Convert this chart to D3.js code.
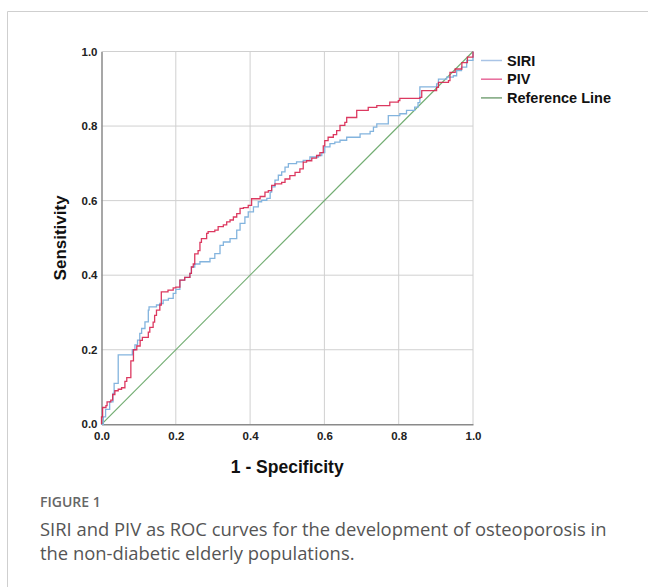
<!DOCTYPE html>
<html>
<head>
<meta charset="utf-8">
<script src="https://cdn.jsdelivr.net/npm/d3@7"></script>
<style>
  body { margin: 0; background: #fff; }
  svg { display: block; }
</style>
</head>
<body>
<svg id="chart"></svg>
<script>
// ROC curves
const siriPoints = [
  [0,0],[0.005,0.02],[0.011,0.04],[0.022,0.06],[0.031,0.083],[0.034,0.11],[0.045,0.115],[0.045,0.186],
  [0.081,0.186],[0.083,0.2],[0.09,0.213],[0.097,0.226],[0.103,0.244],[0.108,0.257],[0.117,0.275],
  [0.126,0.306],[0.128,0.315],[0.148,0.32],[0.157,0.324],[0.166,0.333],[0.18,0.338],[0.193,0.351],
  [0.2,0.362],[0.211,0.387],[0.224,0.394],[0.238,0.405],[0.242,0.422],[0.251,0.43],[0.265,0.436],
  [0.292,0.445],[0.305,0.458],[0.319,0.48],[0.328,0.489],[0.346,0.498],[0.364,0.521],[0.373,0.539],
  [0.386,0.556],[0.395,0.57],[0.409,0.583],[0.422,0.597],[0.431,0.601],[0.445,0.606],[0.454,0.623],
  [0.458,0.637],[0.467,0.655],[0.476,0.668],[0.485,0.677],[0.494,0.69],[0.503,0.699],[0.525,0.704],
  [0.543,0.708],[0.561,0.717],[0.584,0.721],[0.593,0.729],[0.601,0.744],[0.615,0.753],[0.628,0.757],
  [0.642,0.762],[0.66,0.77],[0.696,0.779],[0.723,0.786],[0.732,0.797],[0.741,0.806],[0.772,0.828],
  [0.803,0.833],[0.821,0.842],[0.843,0.851],[0.852,0.863],[0.857,0.869],[0.857,0.905],[0.879,0.905],
  [0.902,0.913],[0.907,0.926],[0.929,0.931],[0.947,0.935],[0.956,0.949],[0.969,0.958],[0.983,0.976],[1,1]
];

const pivPoints = [
  [0,0],[0,0.02],[0.003,0.045],[0.012,0.05],[0.015,0.06],[0.025,0.065],[0.03,0.08],[0.036,0.09],
  [0.045,0.094],[0.054,0.098],[0.063,0.115],[0.068,0.125],[0.078,0.125],[0.079,0.17],[0.086,0.2],
  [0.095,0.21],[0.104,0.225],[0.11,0.233],[0.121,0.233],[0.126,0.247],[0.13,0.26],[0.139,0.274],
  [0.143,0.292],[0.148,0.306],[0.157,0.32],[0.161,0.338],[0.161,0.355],[0.179,0.36],[0.193,0.366],
  [0.2,0.368],[0.211,0.387],[0.224,0.394],[0.238,0.405],[0.242,0.422],[0.247,0.43],[0.251,0.457],
  [0.26,0.466],[0.265,0.488],[0.269,0.498],[0.283,0.512],[0.287,0.517],[0.305,0.521],[0.314,0.53],
  [0.328,0.535],[0.337,0.543],[0.346,0.548],[0.355,0.556],[0.364,0.565],[0.373,0.579],[0.382,0.581],
  [0.395,0.587],[0.404,0.605],[0.427,0.611],[0.44,0.623],[0.449,0.627],[0.458,0.641],[0.467,0.645],
  [0.485,0.649],[0.494,0.658],[0.507,0.667],[0.521,0.676],[0.534,0.685],[0.543,0.703],[0.552,0.707],
  [0.566,0.714],[0.579,0.721],[0.588,0.729],[0.597,0.747],[0.601,0.761],[0.61,0.77],[0.624,0.777],
  [0.633,0.788],[0.642,0.802],[0.655,0.81],[0.66,0.823],[0.687,0.842],[0.718,0.85],[0.741,0.855],
  [0.776,0.864],[0.799,0.868],[0.803,0.874],[0.857,0.877],[0.862,0.895],[0.902,0.904],[0.907,0.917],
  [0.934,0.922],[0.938,0.944],[0.952,0.953],[0.97,0.97],[0.985,0.985],[1,1]
];

const refPoints = [[0,0],[1,1]];
const ticks = [0, 0.2, 0.4, 0.6, 0.8, 1.0];
const legendLabels = ["SIRI", "PIV", "Reference Line"];
const captionLines = [
  "SIRI and PIV as ROC curves for the development of osteoporosis in",
  "the non-diabetic elderly populations."
];

const width = 648, height = 587;
const colors = { SIRI: "#83b4de", PIV: "#d8244f", "Reference Line": "#72ad72" };
const legendColors = { SIRI: "#a9c4e6", PIV: "#e76a9a", "Reference Line": "#7aa57a" };
const font = "Liberation Sans, Arial, sans-serif";

const svg = d3.select("#chart")
    .attr("width", width)
    .attr("height", height);

// panel border
svg.append("path")
    .attr("d", "M7.5,587 V11.5 H648")
    .attr("fill", "none")
    .attr("stroke", "#cfcfcf");

const x = d3.scaleLinear().domain([0, 1]).range([101.5, 473]);
const y = d3.scaleLinear().domain([0, 1]).range([424.3, 51.5]);

// grid
svg.append("g")
  .selectAll("line")
  .data(ticks.slice(1))
  .join("line")
    .attr("x1", d => x(d)).attr("x2", d => x(d))
    .attr("y1", y(0)).attr("y2", y(1))
    .attr("stroke", "#d0d0d0");

svg.append("g")
  .selectAll("line")
  .data(ticks.slice(1))
  .join("line")
    .attr("x1", x(0)).attr("x2", x(1))
    .attr("y1", d => y(d)).attr("y2", d => y(d))
    .attr("stroke", "#d0d0d0");

// axes
const fmt = d3.format(".1f");
svg.append("g")
    .attr("transform", `translate(0,${y(0)})`)
    .call(d3.axisBottom(x).tickValues(ticks).tickFormat(fmt).tickSize(0).tickPadding(8))
    .call(g => g.select(".domain").attr("stroke", "#8a8a8a").attr("stroke-width", 1.5))
    .call(g => g.selectAll("text")
        .attr("font-family", font)
        .attr("font-weight", "bold").attr("font-size", 11.5).attr("fill", "#222"));

svg.append("g")
    .attr("transform", `translate(${x(0)},0)`)
    .call(d3.axisLeft(y).tickValues(ticks).tickFormat(fmt).tickSize(0).tickPadding(4))
    .call(g => g.select(".domain").attr("stroke", "#8a8a8a").attr("stroke-width", 1.5))
    .call(g => g.selectAll("text")
        .attr("font-family", font)
        .attr("font-weight", "bold").attr("font-size", 11.5).attr("fill", "#222"));

// curves
const line = d3.line().x(d => x(d[0])).y(d => y(d[1]));
const stepLine = d3.line().x(d => x(d[0])).y(d => y(d[1])).curve(d3.curveStepAfter);

svg.append("path")
    .datum(refPoints)
    .attr("d", line)
    .attr("fill", "none")
    .attr("stroke", colors["Reference Line"])
    .attr("stroke-width", 1.2);

svg.append("path")
    .datum(siriPoints)
    .attr("d", stepLine)
    .attr("fill", "none")
    .attr("stroke", colors.SIRI)
    .attr("stroke-width", 1.3);

svg.append("path")
    .datum(pivPoints)
    .attr("d", stepLine)
    .attr("fill", "none")
    .attr("stroke", colors.PIV)
    .attr("stroke-width", 1.3)
    .attr("stroke-opacity", 0.9);

// axis titles
svg.append("text")
    .attr("x", (x(0) + x(1)) / 2)
    .attr("y", 473)
    .attr("text-anchor", "middle")
    .attr("font-family", font)
    .attr("font-weight", "bold")
    .attr("font-size", 17.5)
    .attr("fill", "#111")
    .text("1 - Specificity");

svg.append("text")
    .attr("transform", `translate(66,${(y(0) + y(1)) / 2}) rotate(-90)`)
    .attr("text-anchor", "middle")
    .attr("font-family", font)
    .attr("font-weight", "bold")
    .attr("font-size", 17)
    .attr("fill", "#111")
    .text("Sensitivity");

// legend
const legend = svg.append("g")
  .selectAll("g")
  .data(legendLabels)
  .join("g")
    .attr("transform", (d, i) => `translate(481,${60.5 + i * 18.7})`);

legend.append("line")
    .attr("x1", 0).attr("x2", 21)
    .attr("stroke", d => legendColors[d])
    .attr("stroke-width", 1.5);

legend.append("text")
    .attr("x", 26)
    .attr("dy", "0.36em")
    .attr("font-family", font)
    .attr("font-weight", "bold")
    .attr("font-size", 14.5)
    .attr("fill", "#111")
    .text(d => d);

// caption
svg.append("text")
    .attr("x", 40)
    .attr("y", 507)
    .attr("font-family", "Open Sans, sans-serif")
    .attr("font-weight", 600)
    .attr("font-size", 14)
    .attr("fill", "#666")
    .text("FIGURE 1");

svg.append("g")
  .selectAll("text")
  .data(captionLines)
  .join("text")
    .attr("x", 40)
    .attr("y", (d, i) => 536 + i * 23.5)
    .attr("font-family", "Open Sans, sans-serif")
    .attr("font-size", 18.4)
    .attr("fill", "#555")
    .text(d => d);
</script>
</body>
</html>
